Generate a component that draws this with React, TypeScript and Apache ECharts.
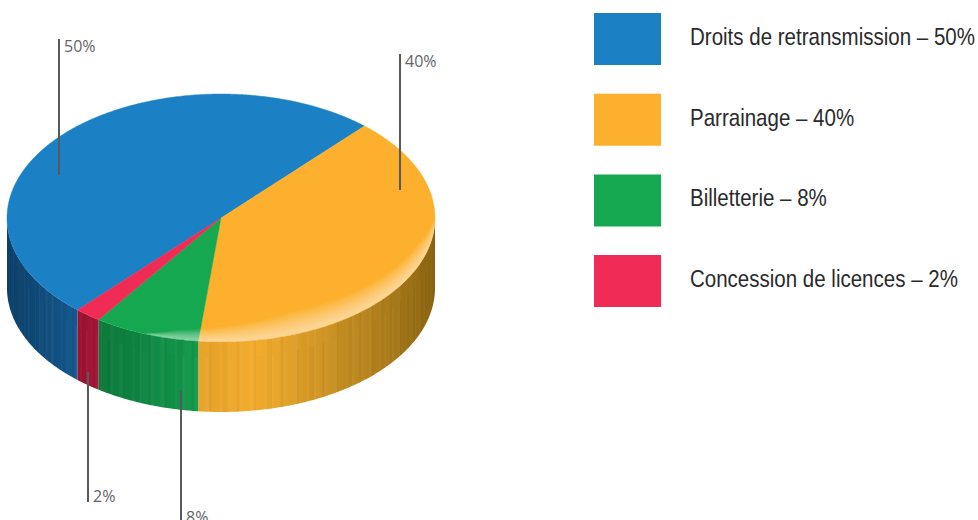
import React, { useEffect, useRef } from "react";
import * as echarts from "echarts";

// Revenue split shown as a tilted disc.
const categories = ["Droits de retransmission", "Parrainage", "Billetterie", "Concession de licences"];
const shares = [50, 40, 8, 2];

const topColors = ["#1b80c4", "#fcb02d", "#16a850", "#f02b55"];
const wallStops: [number, string][][] = [
  [[0, "#0c4068"], [1, "#15588f"]],
  [[0, "#e8a42a"], [0.25, "#f2ac2d"], [0.55, "#cc9224"], [0.8, "#ab7c1b"], [1, "#8a6310"]],
  [[0, "#0c773a"], [1, "#149a4c"]],
  [[0, "#9c1232"], [1, "#a31436"]],
];

// Disc geometry in pixels; angles run clockwise from twelve o'clock.
const disc = { cx: 221, cy: 218, rx: 214, ry: 124, depth: 70, firstAngle: 222.1 };

// Leader line and label placement, in slice order.
const leaders = [
  { x: 59, y1: 39, y2: 175, labelY: 46 },
  { x: 400, y1: 54, y2: 190, labelY: 61 },
  { x: 181, y1: 391, y2: 520, labelY: 517 },
  { x: 88, y1: 372, y2: 502, labelY: 496 },
];

// Key rows on the right.
const keyLayout = { x: 594, top: 13, width: 67, height: 52, step: 80.7, textX: 690, textScale: 0.855, textLift: 2 };

// Thickness of the glossy band along the rim: [angle, thickness].
const glossProfile: [number, number][] = [[92, 0], [100, 15], [112, 22], [160, 23], [186, 12], [192, 9], [201, 0]];
const glossSteps = 10;
const glossAlpha = 0.072;

// Repeating vertical streaks on the wall: [width in degrees, white (+) or black (-) alpha].
const streaks: [number, number][] = [
  [1.1, 0.03], [0.7, -0.035], [1.9, 0.012], [0.5, 0.05], [1.4, -0.025], [0.8, 0.025], [2.2, -0.012], [0.6, -0.04], [1.2, 0.035], [1.6, 0],
];

const rim = (deg: number, drop = 0): number[] => {
  const a = (deg * Math.PI) / 180;
  return [disc.cx + disc.rx * Math.sin(a), disc.cy - disc.ry * Math.cos(a) + drop];
};

const arc = (from: number, to: number, drop = 0): number[][] => {
  const pts: number[][] = [];
  const n = Math.max(1, Math.ceil((to - from) / 0.5));
  for (let i = 0; i <= n; i++) pts.push(rim(from + ((to - from) * i) / n, drop));
  return pts;
};

// Cumulative slice angles come straight from the shares.
const total = shares.reduce((s, v) => s + v, 0);
const sliceStart = (index: number): number => {
  const before = shares.slice(0, index).reduce((s, v) => s + v, 0);
  return (disc.firstAngle + (before / total) * 360) % 360;
};

const sliceItem = (index: number) => (_params: any, api: any) => {
  const value = api.value(0) as number;
  const from = sliceStart(index);
  const to = from + (value / total) * 360;
  const children: any[] = [];
  const wallFrom = Math.max(from, 90);
  const wallTo = Math.min(to, 270);
  if (wallTo > wallFrom) {
    const xs = [rim(wallFrom)[0], rim(wallTo)[0]];
    const stops = wallStops[index].map(([offset, color]) => ({ offset, color }));
    children.push({
      type: "polygon",
      shape: { points: [...arc(wallFrom, wallTo), ...arc(wallFrom, wallTo, disc.depth).reverse()] },
      style: {
        fill: {
          type: "linear",
          global: true,
          x: Math.min(...xs),
          y: 0,
          x2: Math.max(...xs),
          y2: 0,
          colorStops: stops,
        },
      },
    });
    let a = wallFrom;
    let i = 0;
    while (a < wallTo) {
      const [w, alpha] = streaks[i % streaks.length];
      const b = Math.min(a + w, wallTo);
      if (alpha !== 0) {
        children.push({
          type: "polygon",
          shape: { points: [...arc(a, b, i % 3 === 0 ? 16 : 0), ...arc(a, b, disc.depth).reverse()] },
          style: { fill: alpha > 0 ? `rgba(255,255,255,${alpha})` : `rgba(0,0,0,${-alpha})` },
        });
      }
      a = b;
      i++;
    }
  }
  children.push({
    type: "polygon",
    shape: { points: [[disc.cx, disc.cy], ...arc(from, to)] },
    style: { fill: topColors[index], stroke: topColors[index], lineWidth: 0.4 },
  });
  return { type: "group", children };
};

const glossAt = (deg: number): number => {
  for (let i = 1; i < glossProfile.length; i++) {
    const [a0, t0] = glossProfile[i - 1];
    const [a1, t1] = glossProfile[i];
    if (deg <= a1) return t0 + ((t1 - t0) * (deg - a0)) / (a1 - a0);
  }
  return 0;
};

const glossItem = () => {
  const children: any[] = [];
  const start = glossProfile[0][0];
  const end = glossProfile[glossProfile.length - 1][0];
  for (let k = 1; k <= glossSteps; k++) {
    const outer = arc(start, end, -0.3);
    const inner = outer.map((p, i) => {
      const deg = start + ((end - start) * i) / (outer.length - 1);
      return [p[0], p[1] - (glossAt(deg) * k) / glossSteps];
    });
    children.push({
      type: "polygon",
      shape: { points: [...outer, ...inner.reverse()] },
      style: { fill: `rgba(255,255,255,${glossAlpha})` },
    });
  }
  return { type: "group", children };
};

const leaderItem = (params: any, api: any) => {
  const l = leaders[params.dataIndex];
  return {
    type: "group",
    children: [
      { type: "line", shape: { x1: l.x, y1: l.y1, x2: l.x, y2: l.y2 }, style: { stroke: "#58595b", lineWidth: 2 } },
      {
        type: "text",
        style: {
          x: l.x + 5,
          y: l.labelY,
          text: `${api.value(0)}%`,
          fill: "#636466",
          font: "16px 'Open Sans'",
          textVerticalAlign: "middle",
        },
      },
    ],
  };
};

// One swatch and one narrowed label per category.
const keyItem = (params: any, api: any) => {
  const i = params.dataIndex;
  const y = keyLayout.top + i * keyLayout.step;
  return {
    type: "group",
    children: [
      {
        type: "rect",
        shape: { x: keyLayout.x, y, width: keyLayout.width, height: keyLayout.height },
        style: { fill: topColors[i] },
      },
      {
        type: "text",
        x: keyLayout.textX,
        y: y + keyLayout.height / 2 - keyLayout.textLift,
        scaleX: keyLayout.textScale,
        style: {
          x: 0,
          y: 0,
          text: `${categories[i]} – ${api.value(0)}%`,
          fill: "#2b2a2b",
          font: "24px 'Liberation Sans'",
          textVerticalAlign: "middle",
        },
      },
    ],
  };
};

export default function App() {
  const ref = useRef<HTMLDivElement>(null);
  useEffect(() => {
    const chart = echarts.init(ref.current!, undefined, { renderer: "svg" });
    chart.setOption({
      animation: false,
      series: [
        ...categories.map((name, i) => ({
          type: "custom",
          name,
          coordinateSystem: "none",
          silent: true,
          data: [[shares[i]]],
          renderItem: sliceItem(i),
          z: 2,
        })),
        {
          type: "custom",
          name: "gloss",
          coordinateSystem: "none",
          silent: true,
          data: [[1]],
          renderItem: glossItem,
          z: 3,
        },
        {
          type: "custom",
          name: "leaders",
          coordinateSystem: "none",
          silent: true,
          data: shares.map((v) => [v]),
          renderItem: leaderItem,
          z: 4,
        },
        {
          type: "custom",
          name: "key",
          coordinateSystem: "none",
          silent: true,
          data: shares.map((v) => [v]),
          renderItem: keyItem,
          z: 4,
        },
      ],
    });
    return () => chart.dispose();
  }, []);
  return <div ref={ref} style={{ position: "absolute", left: 0, top: 0, width: 978, height: 520 }} />;
}
